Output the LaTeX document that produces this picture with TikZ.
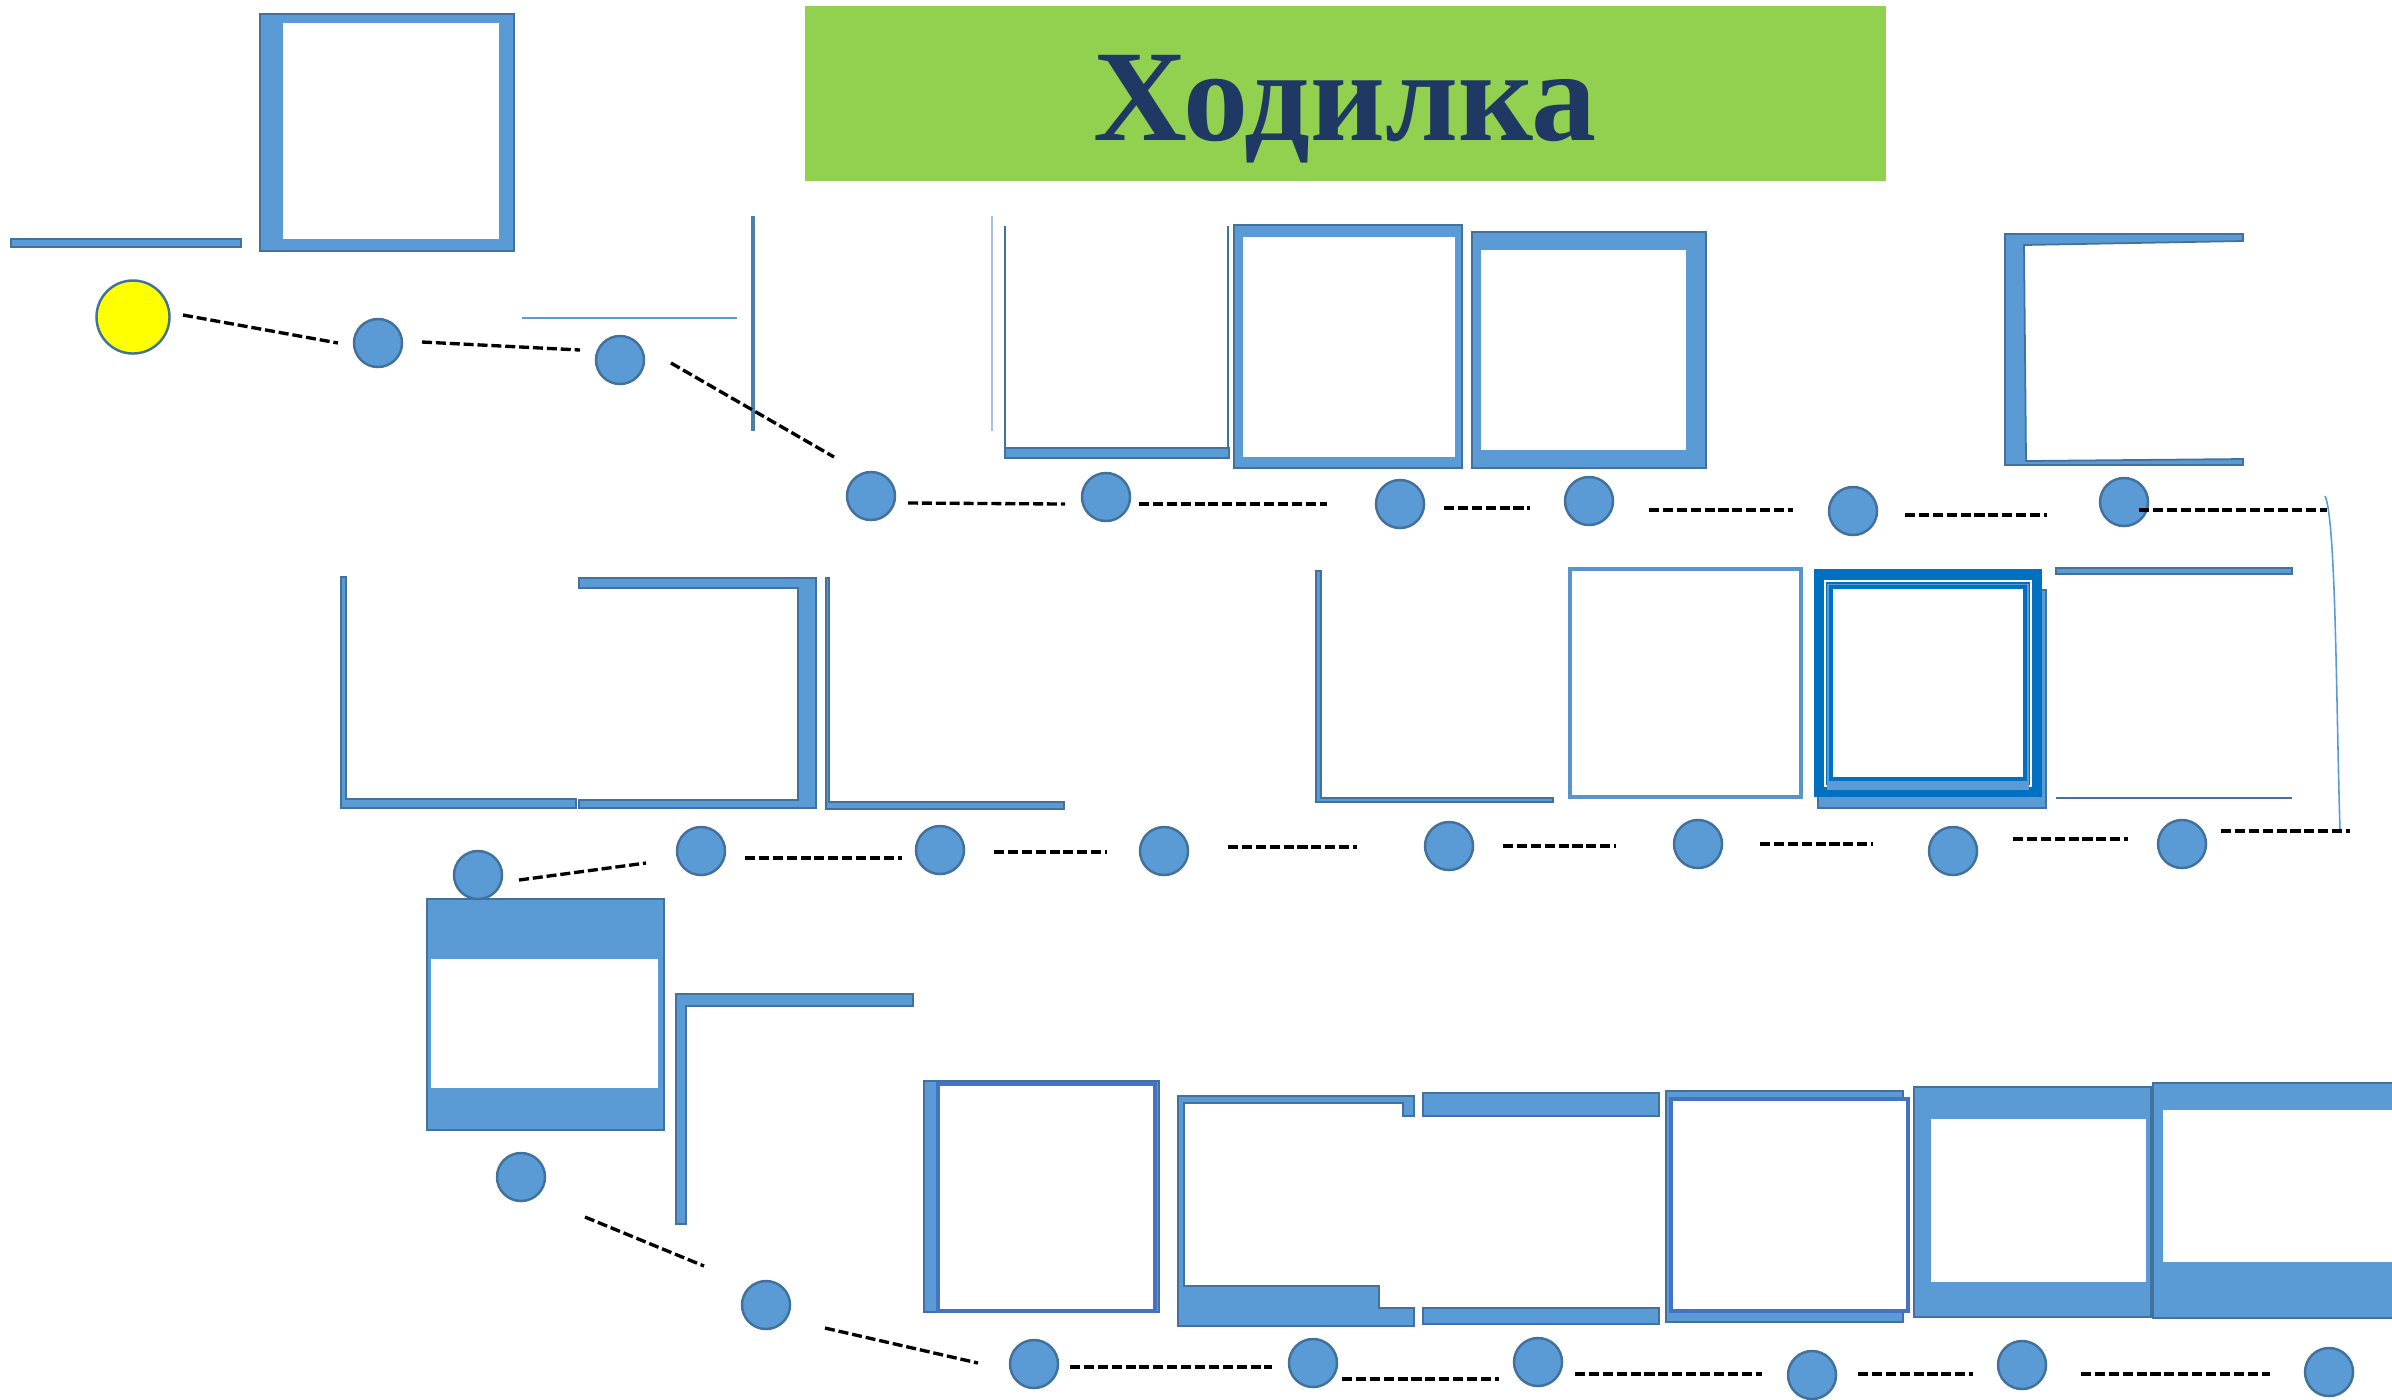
\documentclass[tikz,border=0pt]{standalone}
\usepackage{fontspec}
\setmainfont{Liberation Serif}
\definecolor{bfillc}{HTML}{5B9BD5}
\definecolor{blinec}{HTML}{41719C}
\definecolor{dkblue}{HTML}{0070C0}
\definecolor{midblue}{HTML}{4472C4}
\definecolor{grn}{HTML}{92D050}
\definecolor{navy}{HTML}{1F3864}
\definecolor{yel}{HTML}{FFFF00}
\definecolor{paleblue}{HTML}{A9C1DE}
\newcommand{\bfrm}[4]{%
  \fill[bfillc] (#1) rectangle (#2);
  \fill[white] (#3) rectangle (#4);
  \draw[bline] (#1) rectangle (#2);}
\tikzset{
  bshape/.style={fill=bfillc, draw=blinec, line width=0.5pt},
  bline/.style={draw=blinec, line width=0.5pt},
  dot/.style={circle, fill=bfillc, draw=blinec, line width=0.7pt, minimum size=0.48cm, inner sep=0pt},
  startdot/.style={circle, fill=yel, draw=blinec, line width=0.7pt, minimum size=0.73cm, inner sep=0pt},
  dashln/.style={black, line width=0.95pt, dash pattern=on 2.85pt off 1.1pt},
}
\begin{document}
\begin{tikzpicture}[x=0.01cm, y=-0.01cm]
\path[use as bounding box] (0,0) rectangle (2392,1399);

% title banner
\node[fill=grn, minimum width=10.81cm, minimum height=1.75cm, inner sep=0pt] (banner) at (1345.5,93.5) {};
\node[anchor=base, inner sep=0pt, text=navy, font=\fontsize{37}{40}\selectfont\bfseries] (title) at (1345,140) {Ходилка};

% ---------- row 1 shapes ----------
\draw[bshape] (11,239) rectangle (241,247);
\bfrm{260,14}{514,251}{283,23}{499,239}
\draw[bfillc, line width=0.45pt] (522,318) -- (737,318);
\draw[color=blinec!70!bfillc, line width=1.3pt] (753,216) -- (753,431);
\draw[paleblue, line width=0.35pt] (992,216) -- (992,431);
% U shape
\draw[blinec, line width=0.5pt] (1005,226) -- (1005,458);
\draw[blinec, line width=0.5pt] (1228,226) -- (1228,458);
\draw[bshape] (1005,448) rectangle (1229,458);
\bfrm{1234,225}{1462,468}{1243,237}{1455,457}
\bfrm{1472,232}{1706,468}{1481,250}{1686,450}
\draw[bshape] (2005,234) -- (2243,234) -- (2243,241) -- (2024,245) -- (2026,461) -- (2243,459) -- (2243,465) -- (2005,465) -- cycle;
\draw[bfillc, line width=0.45pt] (2325,496) .. controls (2336,520) and (2336,700) .. (2340,831);

% ---------- row 2 shapes ----------
\draw[bshape] (341,577) -- (346,577) -- (346,799) -- (576,799) -- (576,808) -- (341,808) -- cycle;
\draw[bshape] (579,578) -- (816,578) -- (816,808) -- (579,808) -- (579,800) -- (798,800) -- (798,588) -- (579,588) -- cycle;
\draw[bshape] (826,578) -- (829,578) -- (829,802) -- (1064,802) -- (1064,809) -- (826,809) -- cycle;
\draw[bshape] (1316,571) -- (1321,571) -- (1321,798) -- (1553,798) -- (1553,802) -- (1316,802) -- cycle;
\draw[bfillc!85!blinec, line width=1pt] (1570,569) rectangle (1801,797);
% double framed box
\draw[bshape] (1818,590) rectangle (2046,808);
\fill[dkblue] (1814,569) rectangle (2042,797);
\draw[white, line width=0.7pt] (1825,581) rectangle (2031,786);
\fill[bfillc] (1827,584) rectangle (2029,790);
\draw[dkblue, line width=1.3pt, fill=white] (1831,587) rectangle (2025,779);
\draw[bshape] (2056,568) rectangle (2292,574);
\draw[blinec, line width=0.8pt] (2056,798) -- (2292,798);

% ---------- row 3 shapes ----------
\bfrm{427,899}{664,1130}{431,959}{658,1088}
\draw[bshape] (676,994) -- (913,994) -- (913,1006) -- (686,1006) -- (686,1224) -- (676,1224) -- cycle;
\draw[bshape] (924,1081) rectangle (1159,1312);
\draw[midblue, line width=1.4pt, fill=white] (938,1084) rectangle (1155,1311);
\draw[bshape] (1178,1096) -- (1414,1096) -- (1414,1116) -- (1403,1116) -- (1403,1103) -- (1184,1103) -- (1184,1286) -- (1379,1286) -- (1379,1308) -- (1414,1308) -- (1414,1326) -- (1178,1326) -- cycle;
\draw[bshape] (1423,1093) rectangle (1659,1116);
\draw[bshape] (1423,1308) rectangle (1659,1324);
\draw[bshape] (1666,1091) rectangle (1903,1322);
\draw[midblue, line width=1.4pt, fill=white] (1671,1099) rectangle (1908,1311);
\bfrm{1914,1087}{2151,1317}{1931,1119}{2146,1282}
\bfrm{2153,1083}{2400,1318}{2163,1110}{2392,1262}

% ---------- stepping stones ----------
\node[startdot] (c1) at (133,317) {};
\foreach \n/\p in {c2/{378,343}, c3/{620,360}, c4/{871,496}, c5/{1106,497},
  c6/{1400,504}, c7/{1589,501}, c8/{1853,511}, c9/{2124,502},
  r1/{478,875}, r2/{701,851}, r3/{940,850}, r4/{1164,851},
  r5/{1449,846}, r6/{1698,844}, r7/{1953,851}, r8/{2182,844},
  s1/{521,1177}, s2/{766,1305}, s3/{1034,1364}, s4/{1313,1363},
  s5/{1538,1362}, s6/{1812,1375}, s7/{2022,1365}, s8/{2329,1372}}
  \node[dot] (\n) at (\p) {};

% ---------- dashed tracks ----------
\foreach \n/\a/\b in {d1/{183,315}/{338,343}, d2/{422,342}/{580,350},
  d3/{671,363}/{834,457}, d4/{908,503}/{1065,504}, d5/{1139,504}/{1327,504},
  d6/{1444,508}/{1530,508}, d7/{1649,510}/{1793,510}, d8/{1905,515}/{2047,515},
  d9/{2139,510}/{2327,510},
  e0/{2221,831}/{2350,831}, e1/{519,880}/{646,863}, e2/{745,858}/{902,858},
  e3/{994,852}/{1107,852}, e4/{1228,847}/{1357,847}, e5/{1503,846}/{1616,846},
  e6/{1760,844}/{1873,844}, e7/{2013,839}/{2128,839},
  f1/{585,1217}/{704,1266}, f2/{825,1328}/{978,1363}, f3/{1070,1367}/{1272,1367},
  f4/{1342,1379}/{1499,1379}, f5/{1575,1374}/{1762,1374}, f6/{1858,1374}/{1973,1374},
  f7/{2081,1374}/{2270,1374}}
{
  \coordinate (\n s) at (\a);
  \coordinate (\n e) at (\b);
  \draw[dashln] (\n s) -- (\n e);
}
\end{tikzpicture}
\end{document}
